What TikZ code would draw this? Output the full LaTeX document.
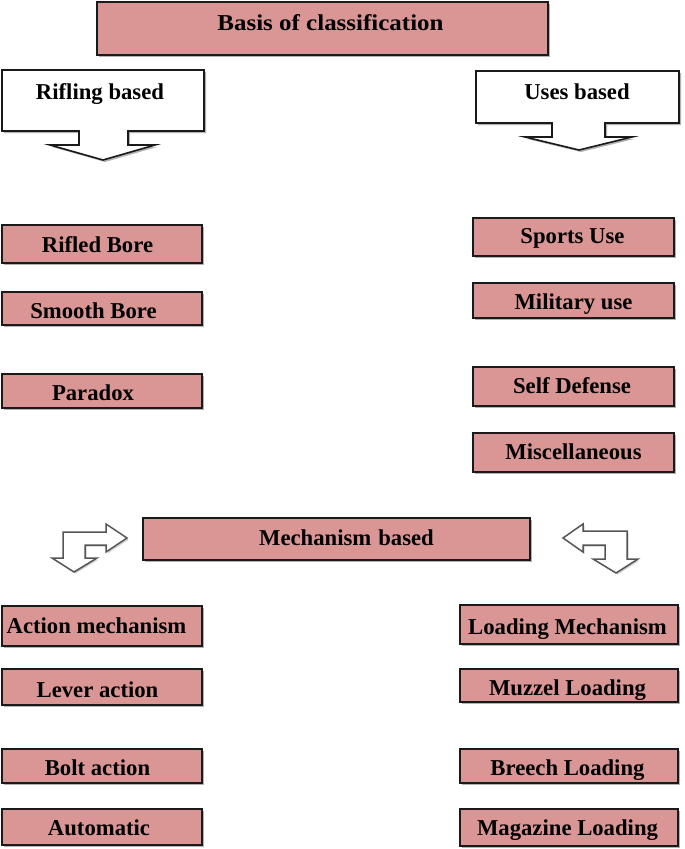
\documentclass[tikz,border=0pt]{standalone}
\usepackage{fontspec}
\usepackage{graphicx}
\setmainfont{Liberation Serif}
\usetikzlibrary{shadows}
\definecolor{boxfill}{HTML}{D99694}
\definecolor{edge}{HTML}{1A1A1A}
\definecolor{arrowedge}{HTML}{555555}
\tikzset{
  box/.style={draw=edge, line width=1.6pt, fill=boxfill, inner sep=0pt,
    drop shadow={shadow xshift=2pt, shadow yshift=-2pt, fill=black, opacity=0.3}},
  txt/.style={font=\fontsize{22.7}{26}\selectfont\bfseries, text=black, inner sep=0pt,
    text height=15pt, text depth=0pt},
  callout/.style={draw=edge, line width=1.6pt, fill=white, line join=miter,
    drop shadow={shadow xshift=2pt, shadow yshift=-2pt, fill=black, opacity=0.3}},
  bent/.style={draw=arrowedge, line width=1.5pt, fill=white, line join=miter,
    drop shadow={shadow xshift=1.5pt, shadow yshift=-1.5pt, fill=black, opacity=0.2}}
}
\newcommand{\mybox}[8]{\node[box, minimum width=#4pt, minimum height=#5pt,
  label={[txt, xshift=#6pt, yshift=#7pt]center:#8}] (#1) at (#2,#3) {};}
\begin{document}
\begin{tikzpicture}[x=1pt,y=-1pt]
\useasboundingbox (0,0) rectangle (685,849);

% title
\mybox{title}{322.5}{28.5}{451}{53}{8}{6}{\scalebox{1.10}[1]{Basis of classification}}

% callouts
\draw[callout] (2,70) -- (204,70) -- (204,131) -- (128,131) -- (128,145) -- (155,145)
  -- (103,160) -- (50,145) -- (79,145) -- (79,131) -- (2,131) -- cycle;
\node[txt] (rifling) at (100,91.5) {Rifling based};

\draw[callout] (476,71) -- (679,71) -- (679,123) -- (605,123) -- (605,137) -- (632,137)
  -- (579,150) -- (525,137) -- (552,137) -- (552,123) -- (476,123) -- cycle;
\node[txt] (uses) at (577,91.5) {Uses based};

% rifling boxes
\mybox{rifled}{102}{244}{200}{38}{-4.5}{-0.5}{Rifled Bore}
\mybox{smooth}{102}{308.5}{200}{33}{-8.5}{-2}{Smooth Bore}
\mybox{paradox}{102}{391}{200}{34}{-9}{-1.5}{Paradox}

% uses boxes
\mybox{sports}{573.5}{237}{201}{38}{-1}{1.5}{Sports Use}
\mybox{military}{573.5}{300.5}{201}{35}{0}{-1}{Military use}
\mybox{selfdef}{573.5}{386.5}{201}{39}{-1.5}{0.5}{Self Defense}
\mybox{misc}{573.5}{452.5}{201}{39}{0}{0.5}{Miscellaneous}

% mechanism
\mybox{mech}{336.5}{539}{387}{42}{10}{1.5}{Mechanism\hspace{7pt}based}

% bent arrows
\draw[bent] (127,538) -- (106,524) -- (106,532) -- (63,532) -- (63,558) -- (52,558)
  -- (74,572) -- (97,558) -- (85,558) -- (85,545) -- (106,545) -- (106,552) -- cycle;
\draw[bent] (563,538) -- (583,524) -- (583,531) -- (627,531) -- (627,559) -- (638,559)
  -- (616,573) -- (593,559) -- (605,559) -- (605,545) -- (583,545) -- (583,552) -- cycle;

% action boxes
\mybox{action}{102}{626}{200}{40}{-5.5}{0.5}{Action mechanism}
\mybox{lever}{102}{687}{200}{36}{-4.5}{-2.5}{Lever action}
\mybox{bolt}{102}{766}{200}{34}{-4.5}{-1.5}{Bolt action}
\mybox{auto}{102}{827}{200}{36}{-3}{-0.5}{Automatic}

% loading boxes
\mybox{loadmech}{569}{624.5}{218}{39}{-1.5}{-2}{Loading Mechanism}
\mybox{muzzel}{569}{685.5}{218}{33}{-1.5}{-2}{Muzzel Loading}
\mybox{breech}{569}{766}{218}{34}{-1.5}{-1.5}{Breech Loading}
\mybox{magazine}{569}{827.5}{218}{37}{-1.5}{0}{Magazine Loading}
\end{tikzpicture}
\end{document}
